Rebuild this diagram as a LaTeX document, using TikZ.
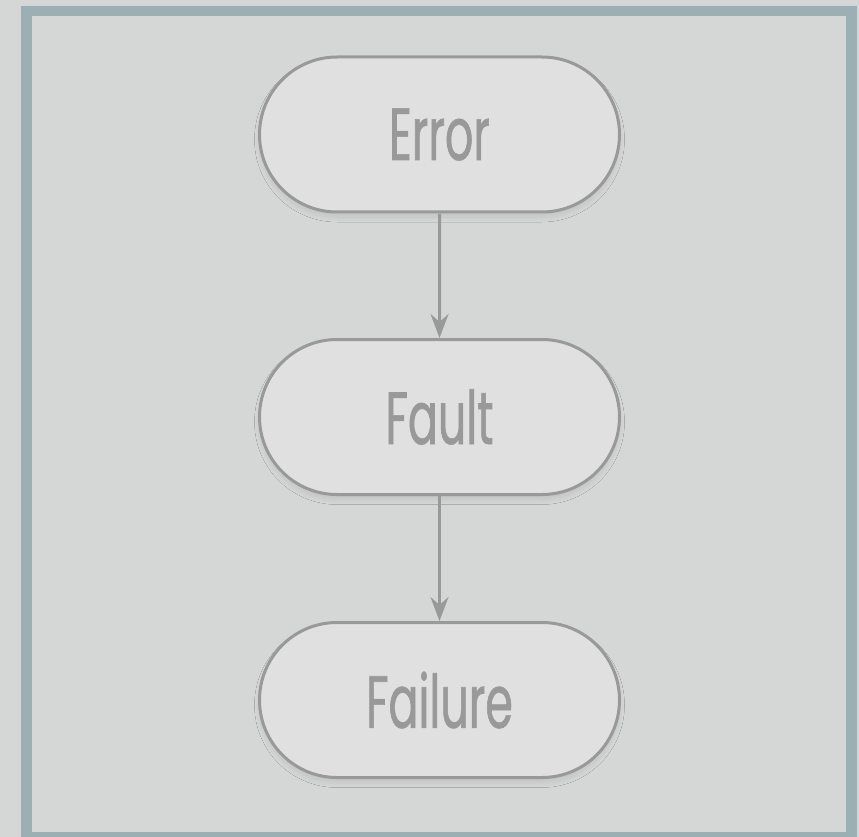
\documentclass[tikz,border=0pt]{standalone}
\usepackage{fontspec}
\usetikzlibrary{arrows.meta,shapes.misc,shadows.blur}
\newfontfamily\labelfont[FakeStretch=0.6,FakeBold=0.8]{Poppins}
\definecolor{pagebg}{HTML}{D5D7D6}
\definecolor{framecol}{HTML}{9CAFB3}
\definecolor{boxfill}{HTML}{E0E0E0}
\definecolor{inkgray}{HTML}{999999}
\tikzset{
  stage/.style={rounded rectangle, draw=inkgray, line width=3pt, fill=boxfill,
    minimum width=360pt, minimum height=155pt, inner sep=0pt,
    text=inkgray, font=\labelfont\fontsize{74}{74}\selectfont,
    blur shadow={shadow blur steps=10, shadow xshift=0pt, shadow yshift=-5pt, shadow opacity=9, shadow blur radius=5pt}},
  link/.style={draw=inkgray, line width=3pt, -{Stealth[length=24pt,width=18pt,inset=8pt]}}
}
\begin{document}
\begin{tikzpicture}[x=1pt,y=-1pt]
  \useasboundingbox (0,0) rectangle (859,837);
  \fill[pagebg] (0,0) rectangle (859,837);
  \draw[framecol, line width=10.5pt] (26.5,11) rectangle (851.7,837);
  \node[stage] (error) at (439.5,134.5) {Error};
  \node[stage] (fault) at (439.5,417) {Fault};
  \node[stage] (failure) at (439.5,700) {Failure};
  \draw[link] (error) -- (fault);
  \draw[link] (fault) -- (failure);
\end{tikzpicture}
\end{document}
